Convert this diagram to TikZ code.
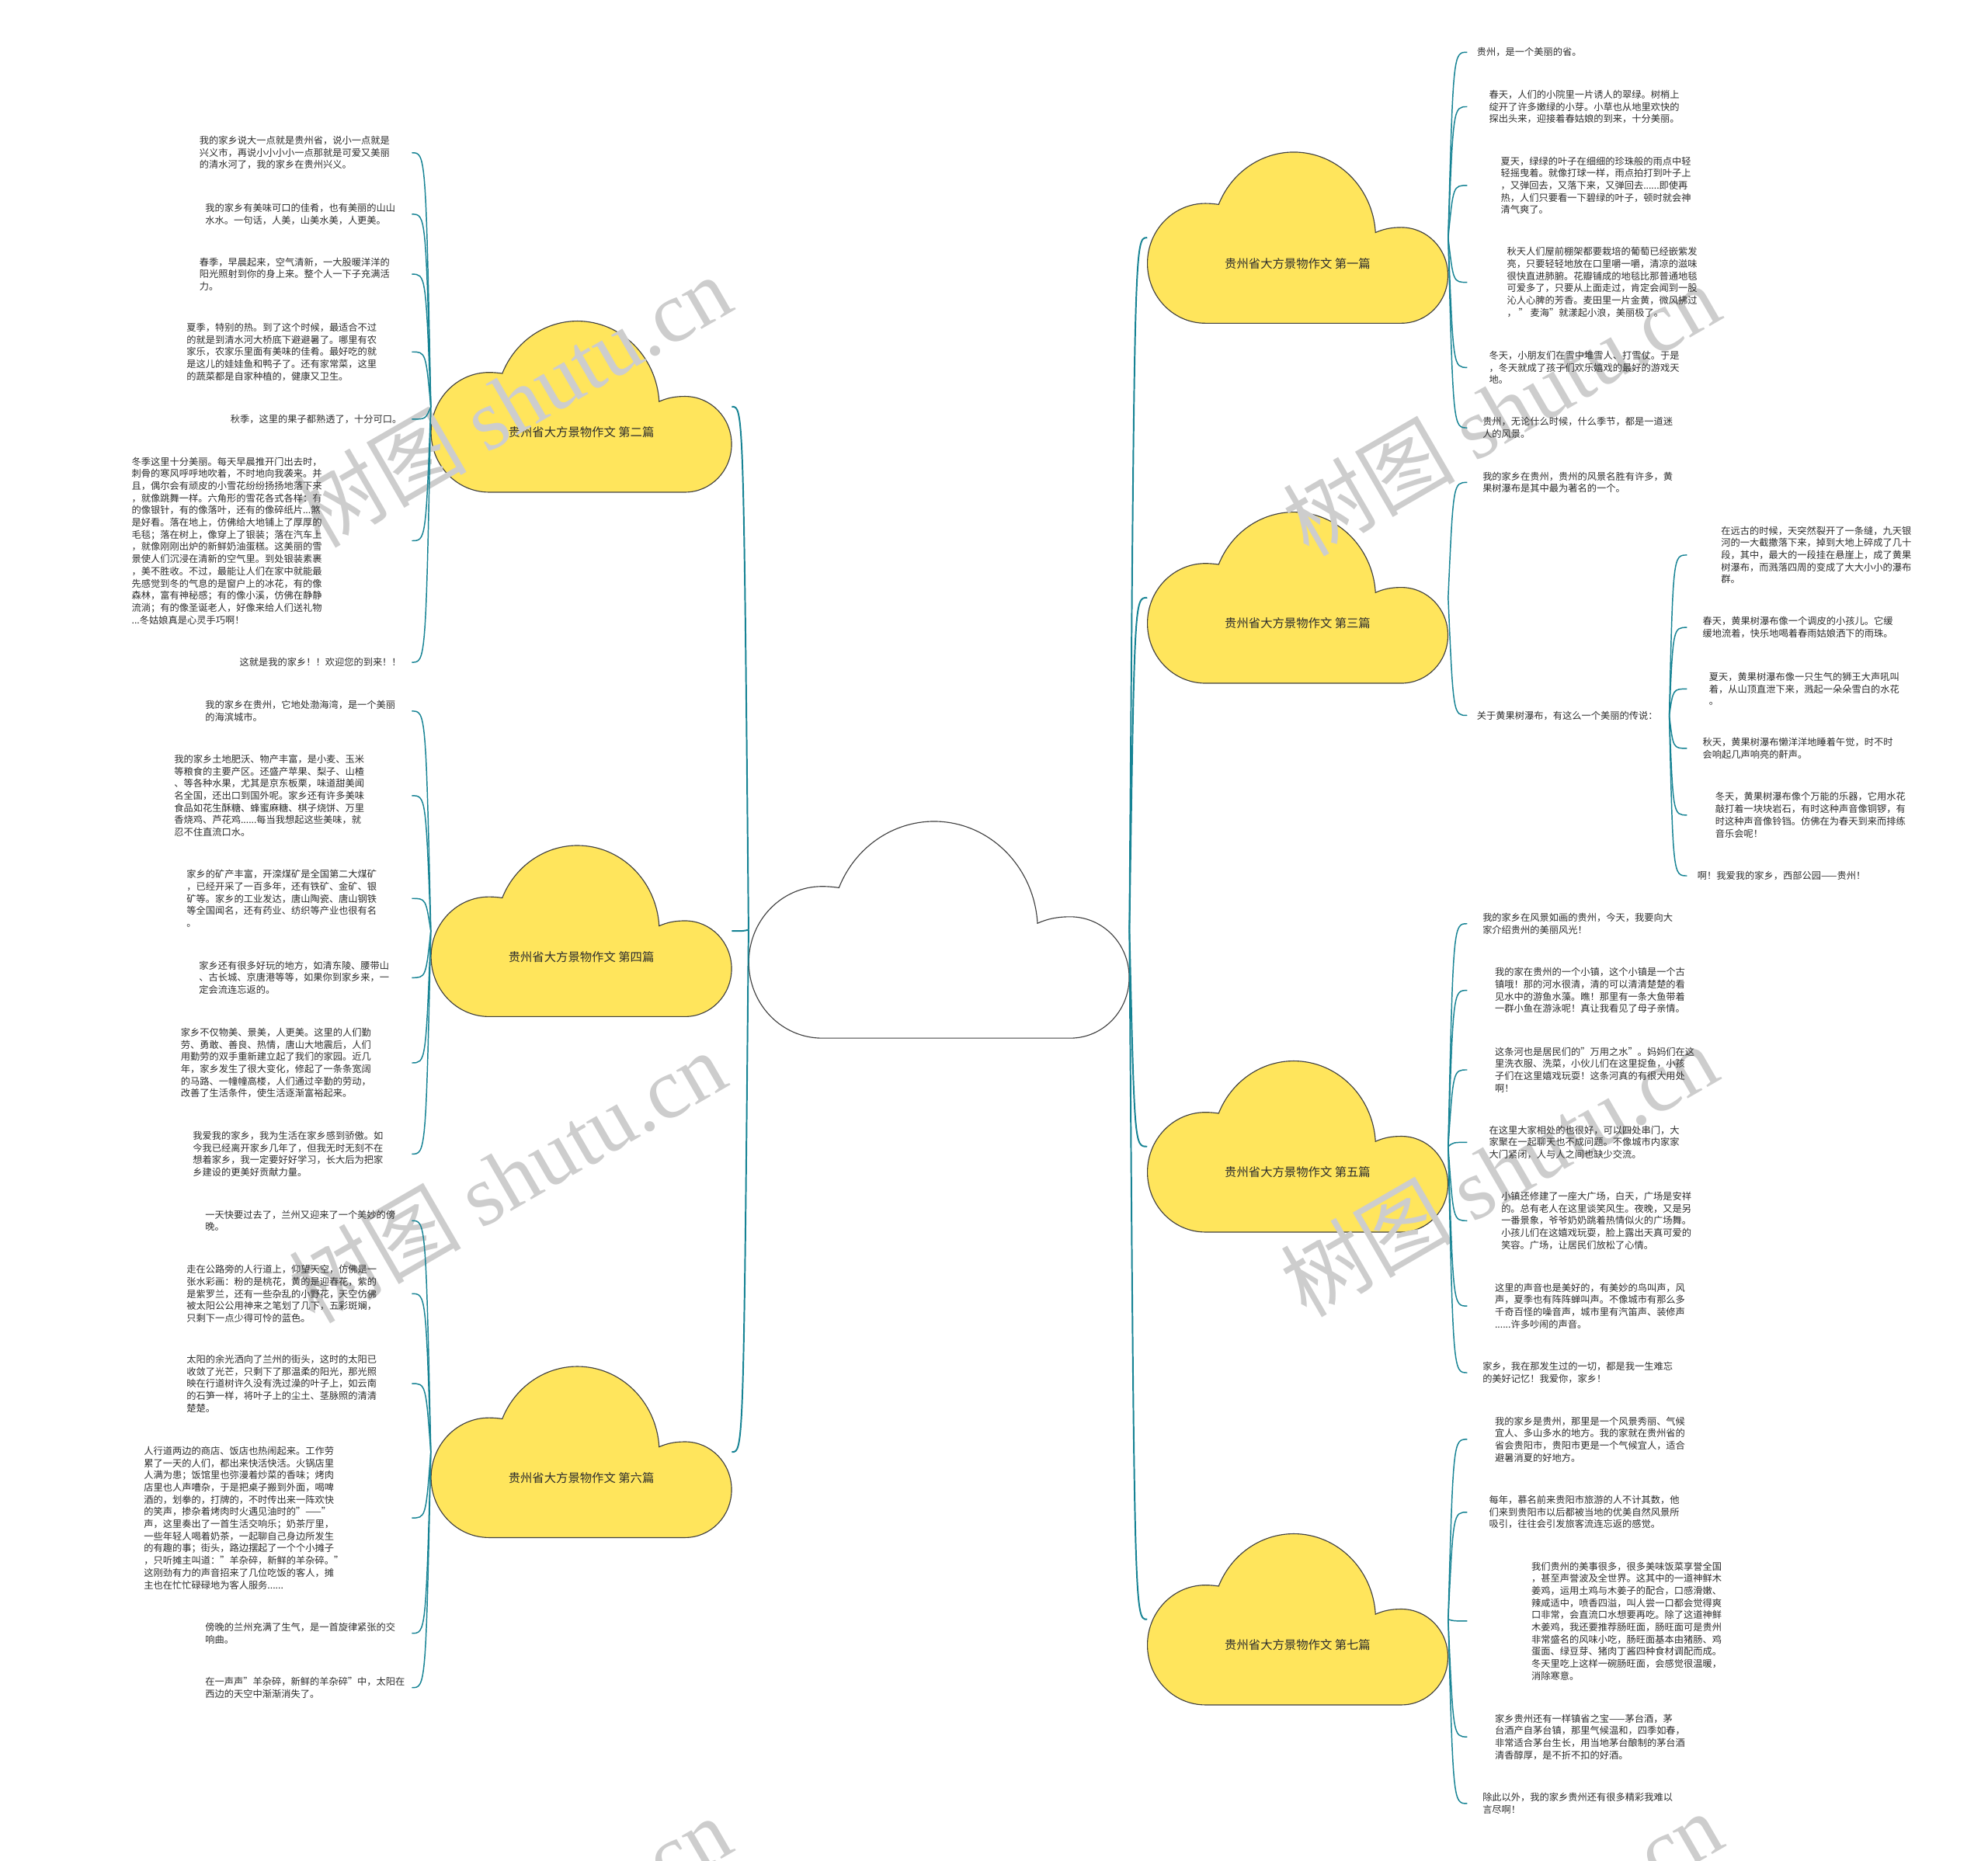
\documentclass[tikz,border=0pt]{standalone}
\usepackage{fontspec}
\setmainfont{Noto Sans CJK SC}
\newfontfamily\markserif{Liberation Serif}
\usetikzlibrary{calc}
\definecolor{cloudyellow}{RGB}{255,229,92}
\definecolor{branchteal}{RGB}{22,131,148}
\definecolor{inkgray}{RGB}{45,45,45}
\definecolor{markgray}{RGB}{205,205,205}

\tikzset{
  cloudline/.style={draw=black!75, line width=0.7pt},
  cloudbox/.style={draw=none, inner sep=0pt},
  cloudlabel/.style={font=\fontsize{9.4}{11}\selectfont, text=inkgray, inner sep=0pt},
  leafnote/.style={anchor=west, align=left, inner sep=0pt, text=inkgray,
    font=\fontsize{7.5}{9.6}\selectfont},
  trunk/.style={draw=branchteal, line width=1.2pt},
  twig/.style={draw=branchteal, line width=0.9pt},
  watermark/.style={rotate=30, text=markgray, inner sep=0pt,
    font=\fontsize{68}{68}\selectfont}
}

% cloud: name, x, y, width, height, fill, text
\newcommand{\cloudnode}[7]{%
  \begin{scope}[shift={(#2,#3)}, xscale=#4, yscale=#5]
    \draw[cloudline, fill=#6] (-0.307,0.5) .. controls (-0.414,0.5) and (-0.5,0.343) .. (-0.5,0.15)
      .. controls (-0.5,-0.043) and (-0.414,-0.2) .. (-0.307,-0.2)
      .. controls (-0.29,-0.2) and (-0.275,-0.197) .. (-0.263,-0.194)
      .. controls (-0.221,-0.38) and (-0.122,-0.5) .. (-0.013,-0.5)
      .. controls (0.131,-0.5) and (0.25,-0.294) .. (0.259,-0.03)
      .. controls (0.285,-0.05) and (0.31,-0.06) .. (0.345,-0.06)
      .. controls (0.431,-0.06) and (0.5,0.065) .. (0.5,0.22)
      .. controls (0.5,0.375) and (0.431,0.5) .. (0.345,0.5) -- cycle;
  \end{scope}
  \node[cloudbox, minimum width=#4pt, minimum height=#5pt] (#1) at (#2,#3) {};
  \node[cloudlabel] (#1t) at ([yshift={-0.15*#5pt}]#1.center) {#7};
}

\begin{document}
\begin{tikzpicture}[x=1pt, y=-1pt]
\useasboundingbox (0,0) rectangle (1568,1468);

% clouds
\cloudnode{cc}{740.6}{733.5}{300}{171}{white}{}
\cloudnode{c2}{458.5}{320.8}{237}{135}{cloudyellow}{贵州省大方景物作文 第二篇}
\cloudnode{c4}{458.5}{734.5}{237}{135}{cloudyellow}{贵州省大方景物作文 第四篇}
\cloudnode{c6}{458.5}{1145.5}{237}{135}{cloudyellow}{贵州省大方景物作文 第六篇}
\cloudnode{c1}{1023.5}{187.5}{237}{135}{cloudyellow}{贵州省大方景物作文 第一篇}
\cloudnode{c3}{1023.5}{471.5}{237}{135}{cloudyellow}{贵州省大方景物作文 第三篇}
\cloudnode{c5}{1023.5}{904.5}{237}{135}{cloudyellow}{贵州省大方景物作文 第五篇}
\cloudnode{c7}{1023.5}{1277.5}{237}{135}{cloudyellow}{贵州省大方景物作文 第七篇}

% watermark
\node[watermark] (wm1) at (404,316) {树图 {\markserif shutu.cn}};
\node[watermark] (wm2) at (1184,323) {树图 {\markserif shutu.cn}};
\node[watermark] (wm3) at (400,928) {树图 {\markserif shutu.cn}};
\node[watermark] (wm4) at (1182,923) {树图 {\markserif shutu.cn}};
\node[watermark] (wm5) at (404,1532) {树图 {\markserif shutu.cn}};
\node[watermark] (wm6) at (1186,1528) {树图 {\markserif shutu.cn}};

% second
\node[leafnote] (a1) at (157.2,120.5) {我的家乡说大一点就是贵州省，说小一点就是\\兴义市，再说小小小小一点那就是可爱又美丽\\的清水河了，我的家乡在贵州兴义。};
\node[leafnote] (a2) at (161.7,169) {我的家乡有美味可口的佳肴，也有美丽的山山\\水水。一句话，人美，山美水美，人更美。};
\node[leafnote] (a3) at (157.2,216.3) {春季，早晨起来，空气清新，一大股暖洋洋的\\阳光照射到你的身上来。整个人一下子充满活\\力。};
\node[leafnote] (a4) at (147,277.6) {夏季，特别的热。到了这个时候，最适合不过\\的就是到清水河大桥底下避避暑了。哪里有农\\家乐，农家乐里面有美味的佳肴。最好吃的就\\是这儿的娃娃鱼和鸭子了。还有家常菜，这里\\的蔬菜都是自家种植的，健康又卫生。};
\node[leafnote] (a5) at (181.7,330.7) {秋季，这里的果子都熟透了，十分可口。};
\node[leafnote] (a6) at (103.7,426.6) {冬季这里十分美丽。每天早晨推开门出去时，\\刺骨的寒风呼呼地吹着，不时地向我袭来。并\\且，偶尔会有顽皮的小雪花纷纷扬扬地落下来\\，就像跳舞一样。六角形的雪花各式各样：有\\的像银针，有的像落叶，还有的像碎纸片...煞\\是好看。落在地上，仿佛给大地铺上了厚厚的\\毛毯；落在树上，像穿上了银装；落在汽车上\\，就像刚刚出炉的新鲜奶油蛋糕。这美丽的雪\\景使人们沉浸在清新的空气里。到处银装素裹\\，美不胜收。不过，最能让人们在家中就能最\\先感觉到冬的气息的是窗户上的冰花，有的像\\森林，富有神秘感；有的像小溪，仿佛在静静\\流淌；有的像圣诞老人，好像来给人们送礼物\\...冬姑娘真是心灵手巧啊！};
\node[leafnote] (a7) at (188.8,522.5) {这就是我的家乡！！欢迎您的到来！！};

% fourth
\node[leafnote] (b1) at (161.7,561) {我的家乡在贵州，它地处渤海湾，是一个美丽\\的海滨城市。};
\node[leafnote] (b2) at (137.2,627.7) {我的家乡土地肥沃、物产丰富，是小麦、玉米\\等粮食的主要产区。还盛产苹果、梨子、山楂\\、等各种水果，尤其是京东板栗，味道甜美闻\\名全国，还出口到国外呢。家乡还有许多美味\\食品如花生酥糖、蜂蜜麻糖、棋子烧饼、万里\\香烧鸡、芦花鸡......每当我想起这些美味，就\\忍不住直流口水。};
\node[leafnote] (b3) at (147,708.8) {家乡的矿产丰富，开滦煤矿是全国第二大煤矿\\，已经开采了一百多年，还有铁矿、金矿、银\\矿等。家乡的工业发达，唐山陶瓷、唐山钢铁\\等全国闻名，还有药业、纺织等产业也很有名\\。};
\node[leafnote] (b4) at (156.8,771.3) {家乡还有很多好玩的地方，如清东陵、腰带山\\、古长城、京唐港等等，如果你到家乡来，一\\定会流连忘返的。};
\node[leafnote] (b5) at (142.5,838.5) {家乡不仅物美、景美，人更美。这里的人们勤\\劳、勇敢、善良、热情，唐山大地震后，人们\\用勤劳的双手重新建立起了我们的家园。近几\\年，家乡发生了很大变化，修起了一条条宽阔\\的马路、一幢幢高楼，人们通过辛勤的劳动，\\改善了生活条件，使生活逐渐富裕起来。};
\node[leafnote] (b6) at (152,910.4) {我爱我的家乡，我为生活在家乡感到骄傲。如\\今我已经离开家乡几年了，但我无时无刻不在\\想着家乡，我一定要好好学习，长大后为把家\\乡建设的更美好贡献力量。};

% sixth
\node[leafnote] (d1) at (161.7,963) {一天快要过去了，兰州又迎来了一个美妙的傍\\晚。};
\node[leafnote] (d2) at (147,1020.6) {走在公路旁的人行道上，仰望天空，仿佛是一\\张水彩画：粉的是桃花，黄的是迎春花，紫的\\是紫罗兰，还有一些杂乱的小野花，天空仿佛\\被太阳公公用神来之笔划了几下，五彩斑斓，\\只剩下一点少得可怜的蓝色。};
\node[leafnote] (d3) at (147,1091.5) {太阳的余光洒向了兰州的街头，这时的太阳已\\收敛了光芒，只剩下了那温柔的阳光，那光照\\映在行道树许久没有洗过澡的叶子上，如云南\\的石笋一样，将叶子上的尘土、茎脉照的清清\\楚楚。};
\node[leafnote] (d4) at (113.3,1197.5) {人行道两边的商店、饭店也热闹起来。工作劳\\累了一天的人们，都出来快活快活。火锅店里\\人满为患；饭馆里也弥漫着炒菜的香味；烤肉\\店里也人声嘈杂，于是把桌子搬到外面，喝啤\\酒的，划拳的，打牌的，不时传出来一阵欢快\\的笑声，掺杂着烤肉时火遇见油时的"——"\\声，这里奏出了一首生活交响乐；奶茶厅里，\\一些年轻人喝着奶茶，一起聊自己身边所发生\\的有趣的事；街头，路边摆起了一个个小摊子\\，只听摊主叫道："羊杂碎，新鲜的羊杂碎。"\\这刚劲有力的声音招来了几位吃饭的客人，摊\\主也在忙忙碌碌地为客人服务......};
\node[leafnote] (d5) at (161.7,1288.5) {傍晚的兰州充满了生气，是一首旋律紧张的交\\响曲。};
\node[leafnote] (d6) at (161.7,1331.4) {在一声声"羊杂碎，新鲜的羊杂碎"中，太阳在\\西边的天空中渐渐消失了。};

% first
\node[leafnote] (r1) at (1164.7,41.2) {贵州，是一个美丽的省。};
\node[leafnote] (r2) at (1174.4,84.2) {春天，人们的小院里一片诱人的翠绿。树梢上\\绽开了许多嫩绿的小芽。小草也从地里欢快的\\探出头来，迎接着春姑娘的到来，十分美丽。};
\node[leafnote] (r3) at (1183.5,146.3) {夏天，绿绿的叶子在细细的珍珠般的雨点中轻\\轻摇曳着。就像打球一样，雨点拍打到叶子上\\，又弹回去，又落下来，又弹回去......即使再\\热，人们只要看一下碧绿的叶子，顿时就会神\\清气爽了。};
\node[leafnote] (r4) at (1188.4,222.7) {秋天人们屋前棚架都要栽培的葡萄已经嵌紫发\\亮，只要轻轻地放在口里嚼一嚼，清凉的滋味\\很快直进肺腑。花瓣铺成的地毯比那普通地毯\\可爱多了，只要从上面走过，肯定会闻到一股\\沁人心脾的芳香。麦田里一片金黄，微风拂过\\，~”~麦海"就漾起小浪，美丽极了。};
\node[leafnote] (r5) at (1174.4,289.9) {冬天，小朋友们在雪中堆雪人、打雪仗。于是\\，冬天就成了孩子们欢乐嬉戏的最好的游戏天\\地。};
\node[leafnote] (r6) at (1169.2,337.5) {贵州，无论什么时候，什么季节，都是一道迷\\人的风景。};

% third
\node[leafnote] (r7) at (1169.2,380.6) {我的家乡在贵州，贵州的风景名胜有许多，黄\\果树瀑布是其中最为著名的一个。};
\node[leafnote] (k0) at (1164.7,564.4) {关于黄果树瀑布，有这么一个美丽的传说：};
\node[leafnote] (k1) at (1357.3,437.9) {在远古的时候，天突然裂开了一条缝，九天银\\河的一大截撒落下来，掉到大地上碎成了几十\\段，其中，最大的一段挂在悬崖上，成了黄果\\树瀑布，而溅落四周的变成了大大小小的瀑布\\群。};
\node[leafnote] (k2) at (1342.8,495) {春天，黄果树瀑布像一个调皮的小孩儿。它缓\\缓地流着，快乐地喝着春雨姑娘洒下的雨珠。};
\node[leafnote] (k3) at (1347.8,543.5) {夏天，黄果树瀑布像一只生气的狮王大声吼叫\\着，从山顶直泄下来，溅起一朵朵雪白的水花\\。};
\node[leafnote] (k4) at (1342.8,590.4) {秋天，黄果树瀑布懒洋洋地睡着午觉，时不时\\会响起几声响亮的鼾声。};
\node[leafnote] (k5) at (1352.7,643) {冬天，黄果树瀑布像个万能的乐器，它用水花\\敲打着一块块岩石，有时这种声音像铜锣，有\\时这种声音像铃铛。仿佛在为春天到来而排练\\音乐会呢！};
\node[leafnote] (k6) at (1338.7,690.9) {啊！我爱我的家乡，西部公园——贵州！};

% fifth
\node[leafnote] (r15) at (1169.2,728.7) {我的家乡在风景如画的贵州，今天，我要向大\\家介绍贵州的美丽风光！};
\node[leafnote] (r16) at (1178.9,781.3) {我的家在贵州的一个小镇，这个小镇是一个古\\镇哦！那的河水很清，清的可以清清楚楚的看\\见水中的游鱼水藻。瞧！那里有一条大鱼带着\\一群小鱼在游泳呢！真让我看见了母子亲情。};
\node[leafnote] (r17) at (1178.9,844) {这条河也是居民们的"万用之水"。妈妈们在这\\里洗衣服、洗菜，小伙儿们在这里捉鱼，小孩\\子们在这里嬉戏玩耍！这条河真的有很大用处\\啊！};
\node[leafnote] (r18) at (1174.4,901.2) {在这里大家相处的也很好，可以四处串门，大\\家聚在一起聊天也不成问题。不像城市内家家\\大门紧闭，人与人之间也缺少交流。};
\node[leafnote] (r19) at (1183.9,963) {小镇还修建了一座大广场，白天，广场是安祥\\的。总有老人在这里谈笑风生。夜晚，又是另\\一番景象，爷爷奶奶跳着热情似火的广场舞。\\小孩儿们在这嬉戏玩耍，脸上露出天真可爱的\\笑容。广场，让居民们放松了心情。};
\node[leafnote] (r20) at (1178.9,1030.3) {这里的声音也是美好的，有美妙的鸟叫声，风\\声，夏季也有阵阵蝉叫声。不像城市有那么多\\千奇百怪的噪音声，城市里有汽笛声、装修声\\......许多吵闹的声音。};
\node[leafnote] (r21) at (1169.2,1082.9) {家乡，我在那发生过的一切，都是我一生难忘\\的美好记忆！我爱你，家乡！};

% seventh
\node[leafnote] (r22) at (1178.9,1135.5) {我的家乡是贵州，那里是一个风景秀丽、气候\\宜人、多山多水的地方。我的家就在贵州省的\\省会贵阳市，贵阳市更是一个气候宜人，适合\\避暑消夏的好地方。};
\node[leafnote] (r23) at (1174.4,1193) {每年，慕名前来贵阳市旅游的人不计其数，他\\们来到贵阳市以后都被当地的优美自然风景所\\吸引，往往会引发旅客流连忘返的感觉。};
\node[leafnote] (r24) at (1207.7,1278.8) {我们贵州的美事很多，很多美味饭菜享誉全国\\，甚至声誉波及全世界。这其中的一道神鲜木\\姜鸡，运用土鸡与木姜子的配合，口感滑嫩、\\辣咸适中，喷香四溢，叫人尝一口都会觉得爽\\口非常，会直流口水想要再吃。除了这道神鲜\\木姜鸡，我还要推荐肠旺面，肠旺面可是贵州\\非常盛名的风味小吃，肠旺面基本由猪肠、鸡\\蛋面、绿豆芽、猪肉丁酱四种食材调配而成。\\冬天里吃上这样一碗肠旺面，会感觉很温暖，\\消除寒意。};
\node[leafnote] (r25) at (1178.9,1370.2) {家乡贵州还有一样镇省之宝——茅台酒，茅\\台酒产自茅台镇，那里气候温和，四季如春，\\非常适合茅台生长，用当地茅台酿制的茅台酒\\清香醇厚，是不折不扣的好酒。};
\node[leafnote] (r26) at (1169.2,1422.8) {除此以外，我的家乡贵州还有很多精彩我难以\\言尽啊！};

% bend points
\coordinate (ccl) at ([xshift=-4pt]cc.west);
\coordinate (ccr) at ([xshift=4pt]cc.east);
\foreach \cl in {c2,c4,c6} {
  \coordinate (f\cl) at ([xshift=-4pt]\cl.west);
  \coordinate (e\cl) at ([xshift=-15pt]\cl.west);
}
\foreach \cl in {c1,c3,c5,c7} {
  \coordinate (f\cl) at ([xshift=4pt]\cl.east);
  \coordinate (e\cl) at ([xshift=15pt]\cl.east);
}
\coordinate (k0s) at ([xshift=9pt]k0.east);
\coordinate (fk0) at ([xshift=12pt]k0.east);
\coordinate (ek0) at ([xshift=23pt]k0.east);

% trunks
\foreach \cl in {c2,c4,c6}
  \draw[trunk] (cc.west) .. controls (ccl |- \cl.east) .. (\cl.east);
\foreach \cl in {c1,c3,c5,c7}
  \draw[trunk] (cc.east) .. controls (ccr |- \cl.west) .. (\cl.west);

% twigs
\foreach \leaf in {a1,a2,a3,a4,a5,a6,a7}
  \draw[twig] (c2.west) .. controls (fc2 |- \leaf) .. (\leaf -| ec2);
\foreach \leaf in {b1,b2,b3,b4,b5,b6}
  \draw[twig] (c4.west) .. controls (fc4 |- \leaf) .. (\leaf -| ec4);
\foreach \leaf in {d1,d2,d3,d4,d5,d6}
  \draw[twig] (c6.west) .. controls (fc6 |- \leaf) .. (\leaf -| ec6);
\foreach \leaf in {r1,r2,r3,r4,r5,r6}
  \draw[twig] (c1.east) .. controls (fc1 |- \leaf) .. (\leaf -| ec1);
\foreach \leaf in {r7,k0}
  \draw[twig] (c3.east) .. controls (fc3 |- \leaf) .. (\leaf -| ec3);
\foreach \leaf in {k1,k2,k3,k4,k5,k6}
  \draw[twig] (k0s) .. controls (fk0 |- \leaf) .. (\leaf -| ek0);
\foreach \leaf in {r15,r16,r17,r18,r19,r20,r21}
  \draw[twig] (c5.east) .. controls (fc5 |- \leaf) .. (\leaf -| ec5);
\foreach \leaf in {r22,r23,r24,r25,r26}
  \draw[twig] (c7.east) .. controls (fc7 |- \leaf) .. (\leaf -| ec7);
\end{tikzpicture}
\end{document}
